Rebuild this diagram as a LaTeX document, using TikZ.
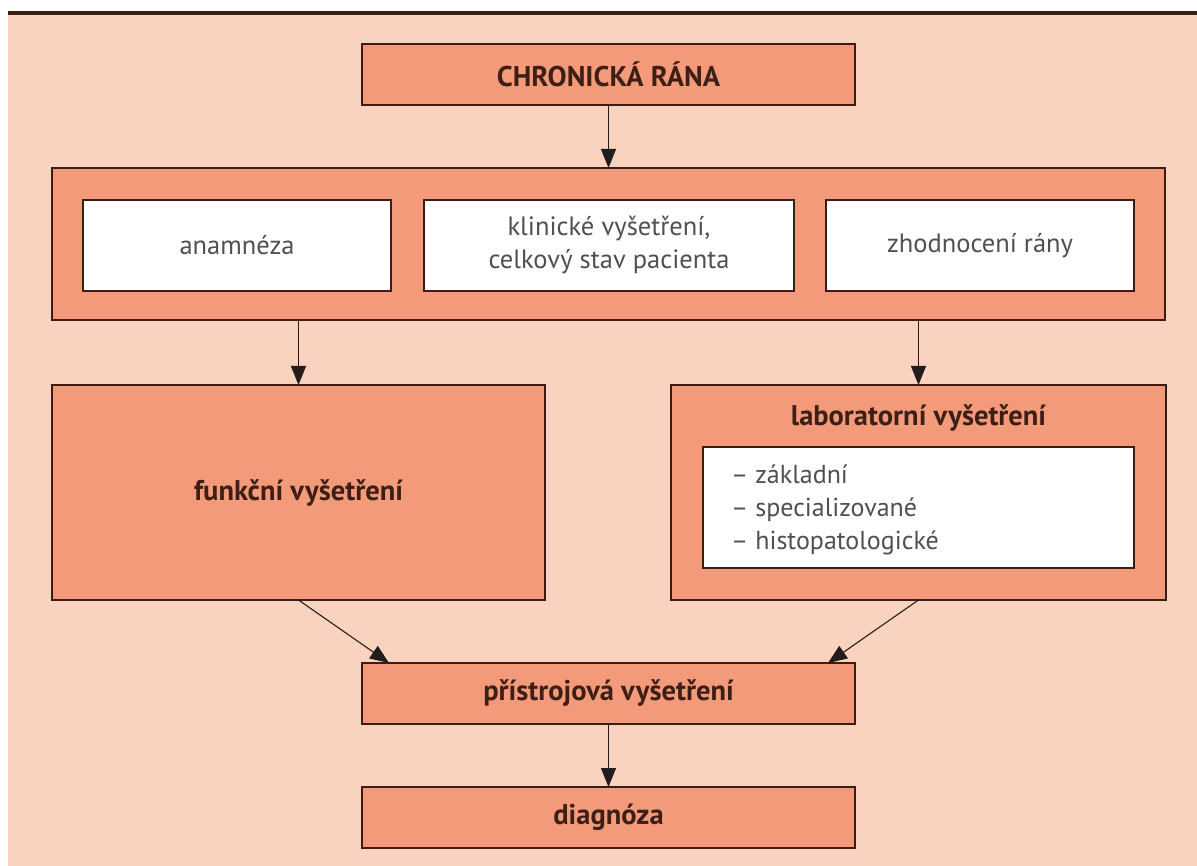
\documentclass[tikz,border=0pt]{standalone}
\usepackage{fontspec}
\setmainfont{PT Sans}
\usetikzlibrary{arrows.meta}
\definecolor{peach}{HTML}{F9D3C0}
\definecolor{salmon}{HTML}{F29A7A}
\definecolor{edge}{HTML}{3A1E16}
\definecolor{darktxt}{HTML}{3D1F16}
\definecolor{greytxt}{HTML}{505050}
\definecolor{arrcol}{HTML}{231C1A}
\tikzset{
  salbox/.style={draw=edge, line width=2pt, fill=salmon, inner sep=0pt, outer sep=0pt, text=darktxt, font=\fontsize{28.5}{32}\selectfont\bfseries},
  whitebox/.style={draw=edge, line width=2pt, fill=white, inner sep=0pt, outer sep=0pt, text=greytxt, font=\fontsize{26.5}{33}\selectfont, align=center},
  arr/.style={draw=arrcol, line width=1.1pt, -{Triangle[length=19pt,width=15pt]}}
}
\begin{document}
\begin{tikzpicture}[x=1pt,y=-1pt]
\useasboundingbox (0,0) rectangle (1197,866);
\fill[white] (0,0) rectangle (1197,866);
\fill[peach] (8,15) rectangle (1197,866);
\fill[edge] (8,11) rectangle (1197,15.5);
% top
\node[salbox, minimum width=493pt, minimum height=61pt] (chronic) at (608.5,74.5) {CHRONICKÁ RÁNA};
% outer group
\node[salbox, minimum width=1113pt, minimum height=152pt] (outer) at (608.5,244) {};
\node[whitebox, minimum width=308pt, minimum height=91pt] (anam) at (237,245.5) {anamnéza};
\node[whitebox, minimum width=370pt, minimum height=91pt] (klin) at (609,245.5) {klinické vyšetření,\\celkový stav pacienta};
\node[whitebox, minimum width=308pt, minimum height=91pt] (zhod) at (980,245.5) {zhodnocení rány};
% middle
\node[salbox, minimum width=493pt, minimum height=215pt] (funk) at (298.5,492.5) {funkční vyšetření};
\node[salbox, minimum width=495pt, minimum height=215pt] (lab) at (918.5,492.5) {};
\node[salbox, draw=none, fill=none, anchor=center] (labtitle) at (918.5,418) {laboratorní vyšetření};
\node[whitebox, minimum width=431pt, minimum height=121pt] (lablist) at (918.5,507.5) {};
\node[anchor=west, text=greytxt, font=\fontsize{26}{33}\selectfont, align=left, inner sep=0pt] (labtext) at (731,510) {– základní\\– specializované\\– histopatologické};
% bottom
\node[salbox, minimum width=493pt, minimum height=61pt] (pristr) at (608.5,693.5) {přístrojová vyšetření};
\node[salbox, minimum width=493pt, minimum height=61pt] (diag) at (608.5,817.5) {diagnóza};
% arrows
\draw[arr] (chronic.south) -- (outer.north);
\draw[arr] (outer.south -| funk.north) -- (funk.north);
\draw[arr] (outer.south -| lab.north) -- (lab.north);
\draw[arr] (funk.south) -- ([xshift=27pt]pristr.north west);
\draw[arr] (lab.south) -- ([xshift=-27pt]pristr.north east);
\draw[arr] (pristr.south) -- (diag.north);
\end{tikzpicture}
\end{document}
